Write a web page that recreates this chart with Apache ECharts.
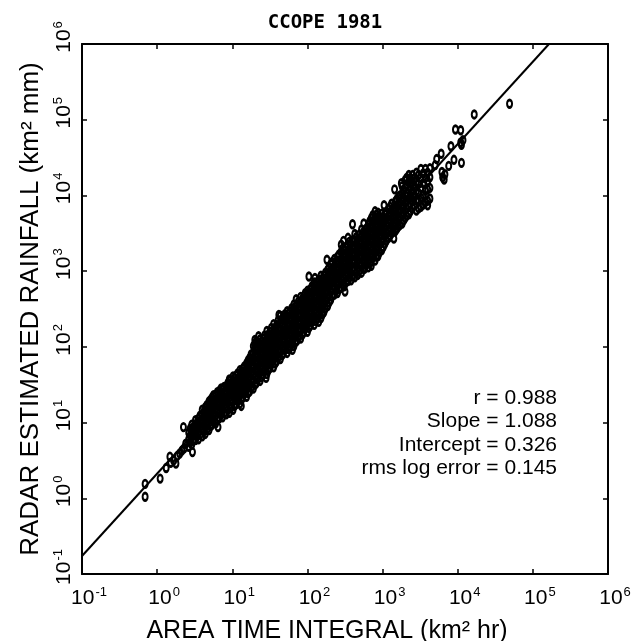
<!DOCTYPE html>
<html>
<head>
<meta charset="utf-8">
<title>CCOPE 1981</title>
<script src="https://cdn.jsdelivr.net/npm/echarts@6/dist/echarts.min.js"></script>
<style>
  html, body { margin: 0; padding: 0; background: #fff; }
  #main { width: 637px; height: 641px; }
</style>
</head>
<body>
<div id="main"></div>
<script>
// values, stored as log10 (ATI km2 hr, rainfall km2 mm)
// dense band: [log10 ATI, [log10 rainfall, ...]]
var cloudCols = [
  [0.42, [0.68, 0.78, 0.87]],
  [0.46, [0.71, 0.80, 0.89, 0.97]],
  [0.51, [0.77, 0.86, 0.96, 1.03]],
  [0.55, [0.78, 0.88, 0.97, 1.05]],
  [0.60, [0.82, 0.92, 1.01, 1.10, 1.17]],
  [0.64, [0.85, 0.94, 1.03, 1.12, 1.20]],
  [0.69, [0.90, 0.99, 1.08, 1.17, 1.28]],
  [0.73, [0.97, 1.07, 1.17, 1.26, 1.33]],
  [0.78, [0.99, 1.09, 1.18, 1.28, 1.36]],
  [0.83, [1.06, 1.16, 1.26, 1.35, 1.42]],
  [0.87, [1.07, 1.17, 1.26, 1.35, 1.44]],
  [0.92, [1.11, 1.21, 1.30, 1.39, 1.48]],
  [0.96, [1.13, 1.23, 1.33, 1.42, 1.51, 1.57]],
  [1.01, [1.17, 1.27, 1.37, 1.46, 1.55, 1.61]],
  [1.05, [1.24, 1.34, 1.44, 1.54, 1.62]],
  [1.10, [1.25, 1.35, 1.44, 1.53, 1.62, 1.69]],
  [1.14, [1.33, 1.43, 1.52, 1.62, 1.71]],
  [1.19, [1.34, 1.44, 1.53, 1.62, 1.71, 1.78]],
  [1.23, [1.41, 1.51, 1.61, 1.70, 1.79, 1.85]],
  [1.28, [1.45, 1.55, 1.64, 1.74, 1.83, 1.92, 2.01]],
  [1.32, [1.52, 1.62, 1.72, 1.82, 1.91, 2.00, 2.07]],
  [1.37, [1.55, 1.65, 1.75, 1.84, 1.93, 2.02, 2.10]],
  [1.41, [1.63, 1.73, 1.83, 1.93, 2.02, 2.11]],
  [1.46, [1.64, 1.74, 1.83, 1.93, 2.02, 2.11, 2.21]],
  [1.50, [1.72, 1.82, 1.92, 2.02, 2.11, 2.20]],
  [1.55, [1.73, 1.83, 1.92, 2.01, 2.11, 2.20, 2.30]],
  [1.59, [1.81, 1.91, 2.01, 2.11, 2.20, 2.29]],
  [1.64, [1.84, 1.94, 2.03, 2.13, 2.23, 2.32, 2.41]],
  [1.68, [1.91, 2.01, 2.11, 2.21, 2.30, 2.39]],
  [1.73, [1.92, 2.02, 2.12, 2.22, 2.31, 2.40, 2.47]],
  [1.77, [1.99, 2.09, 2.19, 2.29, 2.38, 2.47]],
  [1.82, [2.01, 2.11, 2.21, 2.31, 2.40, 2.49, 2.56]],
  [1.86, [2.08, 2.18, 2.28, 2.38, 2.47, 2.56]],
  [1.91, [2.11, 2.21, 2.31, 2.41, 2.50, 2.59, 2.66]],
  [1.95, [2.19, 2.29, 2.39, 2.49, 2.58, 2.67]],
  [2.00, [2.20, 2.30, 2.40, 2.50, 2.59, 2.68, 2.74]],
  [2.04, [2.28, 2.38, 2.48, 2.58, 2.67, 2.76]],
  [2.09, [2.29, 2.39, 2.49, 2.59, 2.68, 2.77, 2.85]],
  [2.13, [2.37, 2.47, 2.57, 2.67, 2.76, 2.85]],
  [2.18, [2.38, 2.48, 2.58, 2.68, 2.77, 2.86, 2.94]],
  [2.22, [2.46, 2.56, 2.66, 2.76, 2.85, 2.94]],
  [2.27, [2.54, 2.64, 2.74, 2.84, 2.93, 3.02]],
  [2.31, [2.62, 2.72, 2.82, 2.91, 3.00, 3.09]],
  [2.36, [2.69, 2.79, 2.89, 2.98, 3.07, 3.16]],
  [2.40, [2.71, 2.81, 2.91, 3.01, 3.10, 3.19]],
  [2.45, [2.78, 2.88, 2.98, 3.07, 3.16, 3.26, 3.35]],
  [2.49, [2.80, 2.90, 3.00, 3.10, 3.19, 3.28]],
  [2.54, [2.87, 2.97, 3.07, 3.16, 3.25, 3.35, 3.44]],
  [2.58, [2.88, 2.98, 3.08, 3.18, 3.27, 3.36]],
  [2.63, [2.92, 3.02, 3.12, 3.22, 3.31, 3.40, 3.49]],
  [2.67, [2.95, 3.05, 3.15, 3.25, 3.34, 3.43]],
  [2.72, [2.98, 3.08, 3.18, 3.28, 3.37, 3.46, 3.55]],
  [2.76, [3.03, 3.13, 3.23, 3.33, 3.42, 3.51]],
  [2.81, [3.05, 3.15, 3.25, 3.35, 3.44, 3.53, 3.62]],
  [2.85, [3.13, 3.23, 3.33, 3.43, 3.52, 3.61, 3.70]],
  [2.90, [3.14, 3.24, 3.34, 3.44, 3.53, 3.62, 3.71, 3.79]],
  [2.94, [3.20, 3.30, 3.40, 3.50, 3.59, 3.68, 3.77]],
  [2.99, [3.28, 3.38, 3.48, 3.58, 3.67, 3.76]],
  [3.03, [3.36, 3.46, 3.56, 3.66, 3.75]],
  [3.08, [3.44, 3.54, 3.64, 3.74, 3.82]],
  [3.12, [3.50, 3.60, 3.70, 3.80, 3.89]],
  [3.17, [3.53, 3.63, 3.73, 3.83, 3.92]],
  [3.21, [3.59, 3.69, 3.79, 3.89, 3.98]],
  [3.26, [3.63, 3.73, 3.83, 3.93, 4.02, 4.12]],
  [3.30, [3.70, 3.80, 3.90, 4.00, 4.10, 4.20]],
  [3.35, [3.75, 3.85, 3.95, 4.07, 4.19, 4.27]],
  [3.40, [3.83, 3.93, 4.05, 4.17, 4.27]],
  [3.45, [3.80, 3.94, 4.06, 4.18, 4.30]],
  [3.51, [3.85, 3.97, 4.10, 4.23, 4.35]],
  [3.57, [3.91, 4.06, 4.23, 4.35]],
  [3.63, [3.96, 4.10, 4.24, 4.36]]
];

// points filling the band between the columns above
var cloudMid = [
  [0.44, [0.74, 0.83, 0.92]],
  [0.48, [0.76, 0.85, 0.94]],
  [0.53, [0.82, 0.92, 1.00]],
  [0.57, [0.84, 0.93, 1.02, 1.09]],
  [0.62, [0.88, 0.97, 1.06, 1.14]],
  [0.66, [0.90, 0.99, 1.08, 1.17, 1.23]],
  [0.71, [0.95, 1.04, 1.13, 1.22, 1.30]],
  [0.75, [1.02, 1.12, 1.21, 1.30, 1.36]],
  [0.80, [1.04, 1.14, 1.23, 1.32, 1.40]],
  [0.85, [1.11, 1.21, 1.30, 1.39, 1.45]],
  [0.89, [1.12, 1.22, 1.31, 1.40, 1.47]],
  [0.94, [1.17, 1.26, 1.35, 1.44, 1.52]],
  [0.98, [1.19, 1.29, 1.38, 1.47, 1.56]],
  [1.03, [1.22, 1.32, 1.41, 1.51, 1.59]],
  [1.07, [1.29, 1.39, 1.49, 1.58, 1.65]],
  [1.12, [1.30, 1.40, 1.49, 1.58, 1.67]],
  [1.16, [1.38, 1.48, 1.57, 1.67, 1.74]],
  [1.21, [1.39, 1.49, 1.58, 1.67, 1.76, 1.82]],
  [1.25, [1.46, 1.56, 1.66, 1.75, 1.84, 1.90]],
  [1.30, [1.50, 1.60, 1.69, 1.79, 1.88, 1.97, 2.04]],
  [1.34, [1.57, 1.67, 1.77, 1.87, 1.96, 2.05]],
  [1.39, [1.60, 1.70, 1.80, 1.89, 1.98, 2.07]],
  [1.43, [1.68, 1.78, 1.88, 1.98, 2.07, 2.15]],
  [1.48, [1.69, 1.79, 1.88, 1.98, 2.07, 2.16]],
  [1.52, [1.77, 1.87, 1.97, 2.07, 2.16, 2.25]],
  [1.57, [1.78, 1.88, 1.97, 2.06, 2.16, 2.25]],
  [1.61, [1.86, 1.96, 2.06, 2.16, 2.25, 2.35]],
  [1.66, [1.89, 1.99, 2.08, 2.18, 2.28, 2.37]],
  [1.70, [1.96, 2.06, 2.16, 2.26, 2.35, 2.43]],
  [1.75, [1.97, 2.07, 2.17, 2.27, 2.36, 2.44]],
  [1.79, [2.04, 2.14, 2.24, 2.34, 2.43, 2.51]],
  [1.84, [2.06, 2.16, 2.26, 2.36, 2.45, 2.53]],
  [1.88, [2.13, 2.23, 2.33, 2.43, 2.52, 2.60]],
  [1.93, [2.16, 2.26, 2.36, 2.46, 2.55, 2.63]],
  [1.97, [2.24, 2.34, 2.44, 2.54, 2.63, 2.71]],
  [2.02, [2.25, 2.35, 2.45, 2.55, 2.64, 2.72]],
  [2.06, [2.33, 2.43, 2.53, 2.63, 2.72, 2.80]],
  [2.11, [2.34, 2.44, 2.54, 2.64, 2.73, 2.81]],
  [2.15, [2.42, 2.52, 2.62, 2.72, 2.81, 2.89]],
  [2.20, [2.43, 2.53, 2.63, 2.73, 2.82, 2.90]],
  [2.24, [2.51, 2.61, 2.71, 2.81, 2.90, 2.98]],
  [2.29, [2.59, 2.69, 2.79, 2.88, 2.97, 3.05]],
  [2.33, [2.67, 2.77, 2.86, 2.95, 3.04, 3.12]],
  [2.38, [2.74, 2.84, 2.94, 3.03, 3.12]],
  [2.42, [2.76, 2.86, 2.96, 3.05, 3.14, 3.22]],
  [2.47, [2.83, 2.93, 3.03, 3.12, 3.21, 3.30]],
  [2.51, [2.85, 2.95, 3.05, 3.14, 3.23, 3.32]],
  [2.56, [2.92, 3.02, 3.12, 3.21, 3.30, 3.39]],
  [2.60, [2.93, 3.03, 3.13, 3.23, 3.32, 3.41]],
  [2.65, [2.97, 3.07, 3.17, 3.27, 3.36, 3.45]],
  [2.69, [3.00, 3.10, 3.20, 3.30, 3.39, 3.48]],
  [2.74, [3.03, 3.13, 3.23, 3.33, 3.42, 3.51]],
  [2.78, [3.08, 3.18, 3.28, 3.38, 3.47, 3.56]],
  [2.83, [3.10, 3.20, 3.30, 3.40, 3.49, 3.58, 3.66]],
  [2.87, [3.18, 3.28, 3.38, 3.48, 3.57, 3.66, 3.74]],
  [2.92, [3.19, 3.29, 3.39, 3.49, 3.58, 3.67, 3.75]],
  [2.96, [3.25, 3.35, 3.45, 3.55, 3.64, 3.72]],
  [3.01, [3.32, 3.42, 3.52, 3.62, 3.71]],
  [3.05, [3.40, 3.50, 3.60, 3.70, 3.78]],
  [3.10, [3.47, 3.57, 3.67, 3.77, 3.85]],
  [3.14, [3.52, 3.62, 3.72, 3.82]],
  [3.19, [3.56, 3.66, 3.76, 3.86, 3.95]],
  [3.23, [3.61, 3.71, 3.81, 3.91, 4.00]],
  [3.28, [3.67, 3.77, 3.87, 3.97, 4.07]],
  [3.32, [3.73, 3.83, 3.93, 4.03, 4.14, 4.23]],
  [3.37, [3.79, 3.89, 4.00, 4.12, 4.23]],
  [3.42, [3.87, 3.99, 4.11, 4.22]],
  [3.48, [3.83, 3.92, 4.03, 4.15, 4.27]],
  [3.54, [3.88, 4.01, 4.16, 4.29]],
  [3.60, [3.93, 4.08, 4.19, 4.30]]
];

// scattered points away from the band: [log10 ATI, log10 rainfall]
var loosePts = [
  [-0.16, 0.19], [-0.16, 0.02], [0.04, 0.26], [0.12, 0.40], [0.17, 0.55],
  [0.18, 0.47], [0.22, 0.50], [0.25, 0.46], [0.27, 0.56], [0.30, 0.59],
  [0.33, 0.63], [0.36, 0.66], [0.38, 0.72], [0.35, 0.94], [0.47, 0.61],
  [0.81, 0.94], [2.02, 2.93], [2.26, 3.15], [2.60, 3.62], [3.16, 4.08],
  [3.70, 4.40], [3.72, 4.48], [3.78, 4.55], [3.91, 4.65], [3.95, 4.47],
  [3.88, 4.39], [4.05, 4.43], [3.80, 4.24], [3.83, 4.28], [3.82, 4.21],
  [3.79, 4.31], [3.97, 4.87], [4.04, 4.86], [4.04, 4.70], [4.07, 4.73],
  [4.05, 4.67], [4.22, 5.07], [4.69, 5.21],
  [1.30, 2.09], [1.35, 2.14], [1.62, 2.42], [1.85, 2.63], [2.10, 2.91],
  [2.48, 3.40], [2.75, 3.63], [3.02, 3.87], [3.25, 4.16],
  [1.12, 1.22], [1.45, 1.59], [1.80, 1.96], [2.15, 2.33], [2.50, 2.73],
  [2.85, 3.07], [3.15, 3.43], [3.60, 3.87]
];

// regression
var fitR = 0.988;
var fitSlope = 1.088;
var fitIntercept = 0.326;
var fitRms = 0.145;

var axisMin = 0.1;
var axisMax = 1e6;

var chartTitle = 'CCOPE 1981';
var xTitle = 'AREA TIME INTEGRAL (km\u00b2 hr)';
var yTitle = 'RADAR ESTIMATED RAINFALL (km\u00b2 mm)';
var statLines = [
  'r = ' + fitR.toFixed(3),
  'Slope = ' + fitSlope.toFixed(3),
  'Intercept = ' + fitIntercept.toFixed(3),
  'rms log error = ' + fitRms.toFixed(3)
];

var points = [];
cloudCols.concat(cloudMid).forEach(function (col) {
  col[1].forEach(function (ly) {
    points.push([Math.pow(10, col[0]), Math.pow(10, ly)]);
  });
});
loosePts.forEach(function (p) {
  points.push([Math.pow(10, p[0]), Math.pow(10, p[1])]);
});

// fitted line from the left edge up to where it leaves the top
var xStart = axisMin;
var xEnd = Math.pow(10, (Math.log10(axisMax) - fitIntercept) / fitSlope);
function fitY(x) { return Math.pow(10, fitIntercept + fitSlope * Math.log10(x)); }
var fitLine = [[xStart, fitY(xStart)], [xEnd, fitY(xEnd)]];

var font = 'Liberation Sans, Arial, Helvetica, sans-serif';

function powLabel(v) {
  var e = Math.round(Math.log10(v));
  return '{b|10}{s|' + e + '}';
}
var labelRich = {
  b: { fontSize: 21, lineHeight: 24, fontFamily: font, color: '#000' },
  s: { fontSize: 13, lineHeight: 24, fontFamily: font, color: '#000', verticalAlign: 'top', padding: [0, 0, 9, 1] }
};

var frameLine = { show: true, lineStyle: { color: '#000', width: 2 } };
var tickIn = { show: true, inside: true, length: 5, lineStyle: { color: '#000', width: 1.5 } };

var myChart = echarts.init(document.getElementById('main'));

myChart.setOption({
  backgroundColor: '#fff',
  animation: false,
  title: {
    text: chartTitle,
    left: 320,
    top: 9,
    textAlign: 'center',
    textStyle: { fontFamily: 'DejaVu Sans Mono, monospace', fontWeight: 'bold', fontSize: 19, color: '#000' }
  },
  grid: { left: 82, top: 44, width: 526, height: 530, containLabel: false, outerBoundsMode: 'none' },
  xAxis: [{
    type: 'log', logBase: 10, min: axisMin, max: axisMax, splitNumber: 7,
    position: 'bottom',
    axisLine: frameLine, axisTick: tickIn, splitLine: { show: false },
    axisLabel: { formatter: powLabel, rich: labelRich, margin: 12, padding: [0, 0, 0, 14] },
    name: xTitle, nameLocation: 'middle', nameGap: 45,
    nameTextStyle: { fontFamily: font, fontSize: 25, color: '#000', padding: [0, 36, 0, 0] }
  }, {
    type: 'log', logBase: 10, min: axisMin, max: axisMax, splitNumber: 7,
    position: 'top',
    axisLine: frameLine, axisTick: tickIn, splitLine: { show: false },
    axisLabel: { show: false }
  }],
  yAxis: [{
    type: 'log', logBase: 10, min: axisMin, max: axisMax, splitNumber: 7,
    position: 'left',
    axisLine: frameLine, axisTick: tickIn, splitLine: { show: false },
    axisLabel: { formatter: powLabel, rich: labelRich, rotate: 90, margin: 6, padding: [0, 0, 0, 14] },
    name: yTitle, nameLocation: 'middle', nameGap: 22, nameRotate: 90,
    nameTextStyle: { fontFamily: font, fontSize: 26, color: '#000' }
  }, {
    type: 'log', logBase: 10, min: axisMin, max: axisMax, splitNumber: 7,
    position: 'right',
    axisLine: frameLine, axisTick: tickIn, splitLine: { show: false },
    axisLabel: { show: false }
  }],
  graphic: [{
    type: 'text',
    x: 557,
    y: 386,
    style: {
      text: statLines.join('\n'),
      align: 'right',
      textAlign: 'right',
      font: '21px ' + font,
      lineHeight: 23.5,
      fill: '#000'
    }
  }],
  series: [{
    type: 'scatter',
    xAxisIndex: 0, yAxisIndex: 0,
    data: points,
    symbol: 'circle',
    symbolSize: [5, 7.5],
    itemStyle: { color: 'rgba(0,0,0,0)', borderColor: '#000', borderWidth: 2.4, opacity: 1 },
    silent: true
  }, {
    type: 'line',
    xAxisIndex: 0, yAxisIndex: 0,
    data: fitLine,
    showSymbol: false,
    lineStyle: { color: '#000', width: 2 },
    silent: true
  }]
});
</script>
</body>
</html>
